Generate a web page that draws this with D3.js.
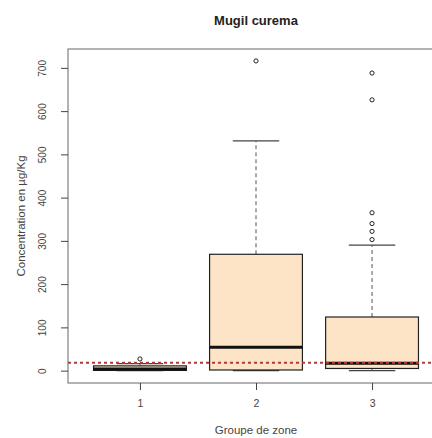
<!DOCTYPE html>
<html>
<head>
<meta charset="utf-8">
<script src="https://cdn.jsdelivr.net/npm/d3@7"></script>
<style>
  html, body { margin: 0; padding: 0; background: #fff; }
  svg { display: block; font-family: "Liberation Sans", Arial, sans-serif; }
</style>
</head>
<body>
<svg id="chart" width="432" height="438"></svg>
<script>
// Groups of zones and their box summaries (µg/Kg)
const groups = ["1", "2", "3"];
const lowerWhisker = [0, 0, 0];
const q1 = [0.5, 1.5, 5];
const median = [4, 54, 17];
const q3 = [11, 269, 124];
const upperWhisker = [16, 531, 290];
const outliers = [[27], [716], [303, 322, 340, 365, 626, 688]];
const threshold = 18;
const yTicks = [0, 100, 200, 300, 400, 500, 600, 700];

const svg = d3.select("#chart");
const plotLeft = 68, plotRight = 444, plotTop = 49, plotBottom = 383;

const x = d3.scaleLinear().domain([0.38, 3.62]).range([plotLeft, plotRight]);
const y = d3.scaleLinear().domain([-28.6, 743.6]).range([plotBottom, plotTop]);
const boxW = x(1.8) - x(1);

const g = svg.append("g");

groups.forEach((name, i) => {
  const cx = x(i + 1);
  // whiskers
  g.append("line").attr("x1", cx).attr("x2", cx)
    .attr("y1", y(q3[i])).attr("y2", y(upperWhisker[i]))
    .attr("stroke", "#555").attr("stroke-dasharray", "4,3");
  g.append("line").attr("x1", cx).attr("x2", cx)
    .attr("y1", y(q1[i])).attr("y2", y(lowerWhisker[i]))
    .attr("stroke", "#555").attr("stroke-dasharray", "4,3");
  // staples
  [upperWhisker[i], lowerWhisker[i]].forEach(v => {
    g.append("line").attr("x1", cx - boxW / 4).attr("x2", cx + boxW / 4)
      .attr("y1", y(v)).attr("y2", y(v))
      .attr("stroke", "#444").attr("stroke-width", 1.2);
  });
  // box
  g.append("rect").attr("x", cx - boxW / 2).attr("width", boxW)
    .attr("y", y(q3[i])).attr("height", y(q1[i]) - y(q3[i]))
    .attr("fill", "#fde4c6").attr("stroke", "#222").attr("stroke-width", 1.2);
  // median
  g.append("line").attr("x1", cx - boxW / 2).attr("x2", cx + boxW / 2)
    .attr("y1", y(median[i])).attr("y2", y(median[i]))
    .attr("stroke", "#111").attr("stroke-width", 3);
  // outliers
  outliers[i].forEach(v => {
    g.append("circle").attr("cx", cx).attr("cy", y(v)).attr("r", 2.1)
      .attr("fill", "none").attr("stroke", "#222").attr("stroke-width", 1);
  });
});

// threshold line
g.append("line").attr("x1", plotLeft).attr("x2", 432)
  .attr("y1", y(threshold)).attr("y2", y(threshold))
  .attr("stroke", "#b33a3a").attr("stroke-width", 2).attr("stroke-dasharray", "3,3");

// frame
svg.append("rect").attr("x", plotLeft).attr("y", plotTop)
  .attr("width", plotRight - plotLeft).attr("height", plotBottom - plotTop)
  .attr("fill", "none").attr("stroke", "#666");

// y axis
const yAxis = svg.append("g").attr("transform", `translate(${plotLeft},0)`)
  .call(d3.axisLeft(y).tickValues(yTicks).tickSize(7));
yAxis.select(".domain").remove();
yAxis.selectAll(".tick line").attr("stroke", "#444");
yAxis.selectAll(".tick text")
  .attr("fill", "#444").attr("font-size", 10)
  .attr("transform", "rotate(-90)")
  .attr("x", 0).attr("y", -22).attr("dy", 0)
  .attr("text-anchor", "middle");

// x axis
const xAxis = svg.append("g").attr("transform", `translate(0,${plotBottom})`)
  .call(d3.axisBottom(x).tickValues([1, 2, 3]).tickFormat((d, i) => groups[i]).tickSize(7).tickPadding(10));
xAxis.select(".domain").remove();
xAxis.selectAll(".tick line").attr("stroke", "#444");
xAxis.selectAll(".tick text").attr("fill", "#444").attr("font-size", 10.5);

// titles
svg.append("text").attr("x", (plotLeft + plotRight) / 2).attr("y", 25)
  .attr("text-anchor", "middle").attr("font-weight", "bold").attr("font-size", 13)
  .attr("fill", "#222").text("Mugil curema");
svg.append("text").attr("x", (plotLeft + plotRight) / 2).attr("y", 434)
  .attr("text-anchor", "middle").attr("font-size", 11.5)
  .attr("fill", "#444").text("Groupe de zone");
svg.append("text").attr("transform", `translate(21,${(plotTop + plotBottom) / 2}) rotate(-90)`)
  .attr("text-anchor", "middle").attr("dy", "0.35em").attr("font-size", 11.5)
  .attr("fill", "#444").text("Concentration en µg/Kg");
</script>
</body>
</html>
